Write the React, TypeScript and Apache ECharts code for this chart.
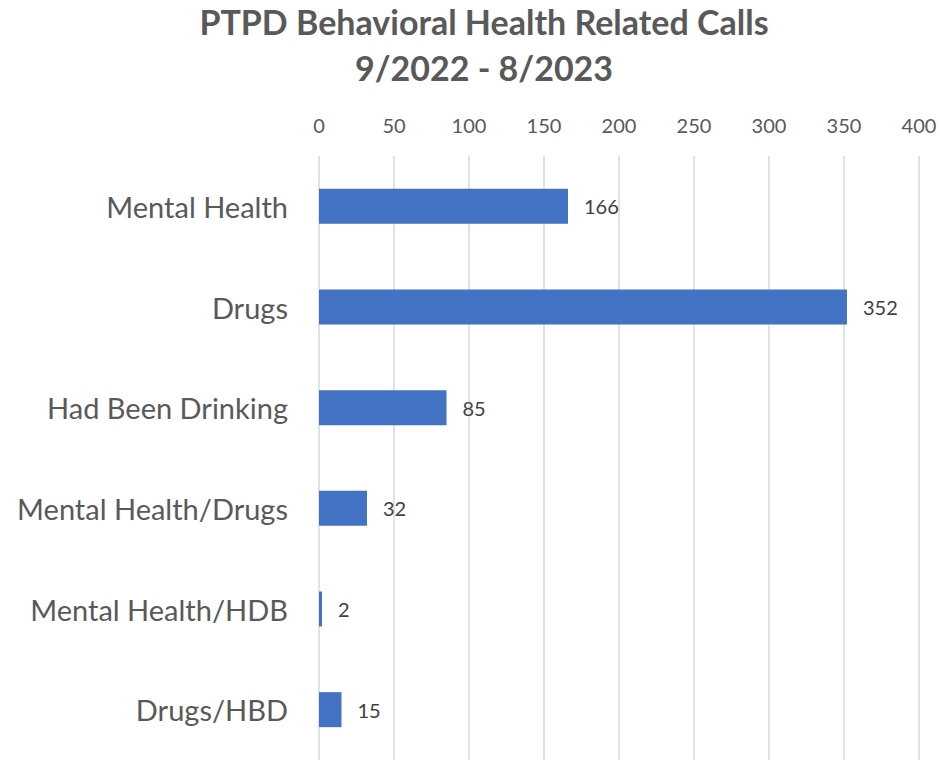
import React, { useEffect, useRef } from "react";
import * as echarts from "echarts";

const categories = [
  "Mental Health",
  "Drugs",
  "Had Been Drinking",
  "Mental Health/Drugs",
  "Mental Health/HDB",
  "Drugs/HBD",
];
const values = [166, 352, 85, 32, 2, 15];
const titleLines = ["PTPD Behavioral Health Related Calls", "9/2022 - 8/2023"];

export default function App() {
  const ref = useRef<HTMLDivElement>(null);
  useEffect(() => {
    if (!ref.current) return;
    const chart = echarts.init(ref.current, undefined, { renderer: "svg" });
    const font = "Lato, 'Open Sans', sans-serif";
    chart.setOption({
      animation: false,
      backgroundColor: "#ffffff",
      title: {
        text: titleLines.join("\n"),
        left: 479,
        top: -7,
        textAlign: "center",
        textStyle: {
          fontFamily: font,
          fontWeight: "bold",
          fontSize: 34,
          lineHeight: 46,
          color: "#595959",
        },
      },
      grid: { left: 319, width: 600, top: 156, height: 606, containLabel: false },
      xAxis: {
        type: "value",
        position: "top",
        min: 0,
        max: 400,
        interval: 50,
        axisLine: { show: false },
        axisTick: { show: false },
        axisLabel: {
          fontFamily: font,
          fontSize: 20,
          color: "#595959",
          margin: 21,
        },
        splitLine: { show: true, lineStyle: { color: "#d9d9d9", width: 1.5 } },
      },
      yAxis: {
        type: "category",
        data: categories,
        inverse: true,
        axisLine: { show: false },
        axisTick: { show: false },
        axisLabel: {
          fontFamily: font,
          fontSize: 29,
          color: "#595959",
          margin: 31,
        },
      },
      series: [
        {
          type: "bar",
          data: values,
          barWidth: 35,
          itemStyle: { color: "#4472C4" },
          label: {
            show: true,
            position: "right",
            distance: 16,
            fontFamily: font,
            fontSize: 20,
            color: "#404040",
          },
        },
      ],
    });
    return () => chart.dispose();
  }, []);
  return (
    <div
      ref={ref}
      style={{ position: "fixed", left: 0, top: 0, width: 940, height: 760 }}
    />
  );
}
